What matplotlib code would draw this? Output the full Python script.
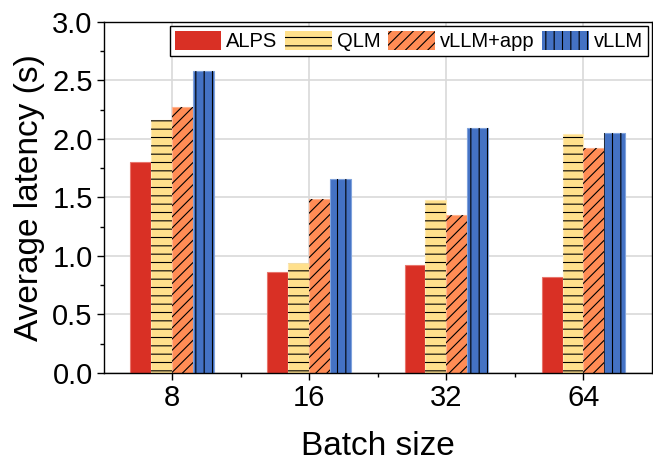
import matplotlib

matplotlib.use("Agg")
import matplotlib.pyplot as plt
import matplotlib.ticker as mticker
from matplotlib.patches import Patch
import numpy as np

batch_sizes = ["8", "16", "32", "64"]
systems = ["ALPS", "QLM", "vLLM+app", "vLLM"]
alps = [1.80, 0.86, 0.92, 0.82]
qlm = [2.16, 0.94, 1.48, 2.04]
vllm_app = [2.27, 1.49, 1.35, 1.92]
vllm = [2.58, 1.66, 2.09, 2.05]

COLORS = ["#d93025", "#ffe08c", "#ff8c55", "#4472c4"]
EDGES = ["#e8756c", "#ffeab3", "#ffb38f", "#7fa2dc"]
HATCHES = ["", "--", "///", "||"]

plt.rcParams.update(
    {
        "font.family": ["Liberation Sans", "DejaVu Sans"],
        "hatch.linewidth": 0.8,
        "axes.linewidth": 1.0,
    }
)

fig = plt.figure(figsize=(6.53, 4.65), dpi=100)
ax = fig.add_axes([0.159, 0.198, 0.8395, 0.755])

x = np.arange(len(batch_sizes))
width = 0.153
series = [alps, qlm, vllm_app, vllm]
for idx, values in enumerate(series):
    offset = (idx - 1.5) * width
    ax.bar(x + offset, values, width=width, color=COLORS[idx], edgecolor=EDGES[idx],
           linewidth=0.8, zorder=2)
    if HATCHES[idx]:
        ax.bar(x + offset, values, width=width, facecolor="none", edgecolor="black",
               linewidth=0, hatch=HATCHES[idx], zorder=3)

ax.set_xlim(-0.5, 3.5)
ax.set_ylim(0, 3.0)
ax.set_xticks(x)
ax.set_xticklabels(batch_sizes)
ax.xaxis.set_minor_locator(mticker.FixedLocator([0.5, 1.5, 2.5]))
ax.yaxis.set_major_locator(mticker.MultipleLocator(0.5))
ax.yaxis.set_minor_locator(mticker.MultipleLocator(0.25))
ax.yaxis.set_major_formatter(mticker.FormatStrFormatter("%.1f"))
ax.tick_params(which="major", direction="out", length=5, width=1, labelsize=21, pad=3)
ax.tick_params(which="minor", direction="out", length=3, width=1)
ax.tick_params(top=False, right=False)
ax.grid(True, which="major", color="#d9d9d9", linewidth=1.2, zorder=0)
ax.set_axisbelow(True)

ax.set_xlabel("Batch size", fontsize=24, labelpad=14)
ax.set_ylabel("Average latency (s)", fontsize=24, labelpad=5)

handles = [
    Patch(facecolor=COLORS[i], edgecolor="black" if HATCHES[i] else COLORS[i],
          hatch=HATCHES[i], linewidth=0, label=systems[i])
    for i in range(len(systems))
]
leg = ax.legend(
    handles=handles,
    loc="upper right",
    ncol=4,
    fontsize=14.5,
    frameon=True,
    fancybox=False,
    edgecolor="black",
    framealpha=1,
    handlelength=2.3,
    handleheight=1.1,
    handletextpad=0.25,
    columnspacing=0.4,
    borderpad=0.25,
    borderaxespad=0.2,
)
leg.get_frame().set_linewidth(1.0)

fig.savefig("out.png", dpi=100)
